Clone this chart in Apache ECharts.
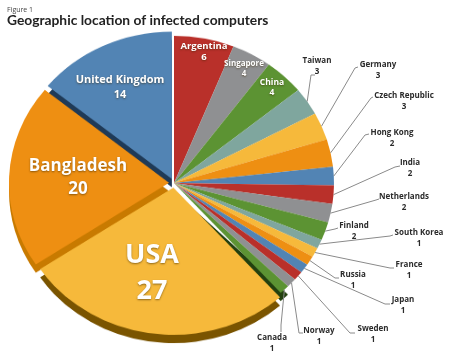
<!DOCTYPE html>
<html><head><meta charset="utf-8">
<style>html,body{margin:0;padding:0;background:#fff}
#p,#c{position:absolute;left:0;top:0;width:450px;height:361px}
#p{transform-origin:0 183px;transform:scaleY(.92)}</style>
<script src="https://cdn.jsdelivr.net/npm/echarts@6/dist/echarts.min.js"></script>
</head><body><div id="p"></div><div id="c"></div>
<script>
const countries = ['Argentina','Singapore','China','Taiwan','Germany','Czech Republic','Hong Kong','India','Netherlands','Finland','South Korea','France','Russia','Japan','Sweden','Norway','Canada','USA','Bangladesh','United Kingdom'];
const infected = [6,4,4,3,3,3,2,2,2,2,1,1,1,1,1,1,1,27,20,14];
const RED='#b9302a',GRY='#8f9092',GRN='#5c9333',TEA='#7fa69e',YEL='#f6b93b',ORG='#ee8f12',BLU='#5284b4';
const sliceColors = [RED,GRY,GRN,TEA,YEL,ORG,BLU,RED,GRY,GRN,TEA,YEL,ORG,BLU,RED,GRY,GRN,YEL,ORG,BLU];
const depthColors = {'Canada':'#23400f','USA':'#7a5400','Bangladesh':'#c87a00','United Kingdom':'#1f3a57'};
const exploded = ['USA','Bangladesh','United Kingdom'];
const innerFont = {'Argentina':[9.5,11],'Singapore':[8,10],'China':[8.5,10],'United Kingdom':[11,15],'Bangladesh':[17,23],'USA':[27,36]};
const labelAt = {
 'Argentina':[204,52],'Singapore':[244,69],'China':[272,88],'United Kingdom':[120,87],'Bangladesh':[78,178],'USA':[152,273],
 'Taiwan':[317,66],'Germany':[378,70],'Czech Republic':[404,101],'Hong Kong':[392,138],'India':[410,168],'Netherlands':[404,202],
 'Finland':[354,231],'South Korea':[419,238],'France':[409,270],'Russia':[353,280],'Japan':[403,305],'Sweden':[373,334],'Norway':[319,336],'Canada':[272,343]};
const leader = {
 'Taiwan':[[311,75],[315,75]],'Germany':[[355,68],[358,67]],'Czech Republic':[[371,98],[373,97]],'Hong Kong':[[365,135],[369,134]],
 'India':[[395,167],[400,166]],'Netherlands':[[376,200],[379,199]],'Finland':[[335,229],[338,228]],'South Korea':[[390,236],[393,235]],
 'France':[[390,268],[394,268]],'Russia':[[335,278],[339,278]],'Japan':[[385,304],[390,304]],'Sweden':[[350,333],[355,333]],
 'Norway':[[299,333],[303,333]],'Canada':[[281,325],[281,332]]};
const faceData = countries.map((n,i)=>({name:n,value:infected[i],selected:exploded.includes(n),itemStyle:{color:sliceColors[i]}}));
const depthData = countries.map((n,i)=>({name:n,value:infected[i],selected:exploded.includes(n),itemStyle:{color:depthColors[n]||'rgba(0,0,0,0)'}}));
const labelData = countries.map((n,i)=>{
  const f = innerFont[n];
  return {name:n,value:infected[i],itemStyle:{color:'rgba(0,0,0,0)'},
    label: f ? {color:'#fff',fontSize:f[0],lineHeight:f[1],fontWeight:'bold',textShadowColor:'rgba(60,40,0,.55)',textShadowBlur:2,textShadowOffsetY:1}
             : {color:'#2b2b2b',fontSize:8,lineHeight:10.5,fontWeight:'bold'},
    labelLine:{show:!f}};
});
const C=[174,183], R=160, OFF=5, DEPTH=9, SQUASH=.92;
const base = {type:'pie',silent:true,radius:R,startAngle:90,clockwise:true,emphasis:{disabled:true}};
echarts.init(document.getElementById('p')).setOption({
 animation:false,backgroundColor:'#fff',
 series:[
  {...base,center:[C[0],C[1]+DEPTH],selectedMode:'multiple',selectedOffset:OFF,label:{show:false},labelLine:{show:false},data:depthData},
  {...base,center:C,selectedMode:'multiple',selectedOffset:OFF,label:{show:false},labelLine:{show:false},data:faceData}
 ]
});
echarts.init(document.getElementById('c')).setOption({
 animation:false,
 title:[{text:'Figure 1',left:2,top:1,textStyle:{fontFamily:'Open Sans',fontSize:7,fontWeight:'normal',color:'#444'}},
        {text:'Geographic location of infected computers',left:2,top:9,textStyle:{fontFamily:'Lato',fontSize:13.8,fontWeight:'bold',color:'#222'}}],
 series:[
  {...base,center:C,avoidLabelOverlap:false,
   label:{show:true,position:'outside',formatter:'{b}\n{c}',fontFamily:'Open Sans',align:'center'},
   labelLine:{show:true,lineStyle:{color:'#8a8a8a',width:1}},
   labelLayout:p=>{
     const n=countries[p.dataIndex], at=labelAt[n];
     const out={x:at[0],y:at[1],align:'center',verticalAlign:'middle'};
     if(leader[n] && p.labelLinePoints){
       const s=p.labelLinePoints[0];
       out.labelLinePoints=[[s[0],C[1]+(s[1]-C[1])*SQUASH],leader[n][0],leader[n][1]];
     }
     return out;
   },
   data:labelData}
 ]
});
</script></body></html>
